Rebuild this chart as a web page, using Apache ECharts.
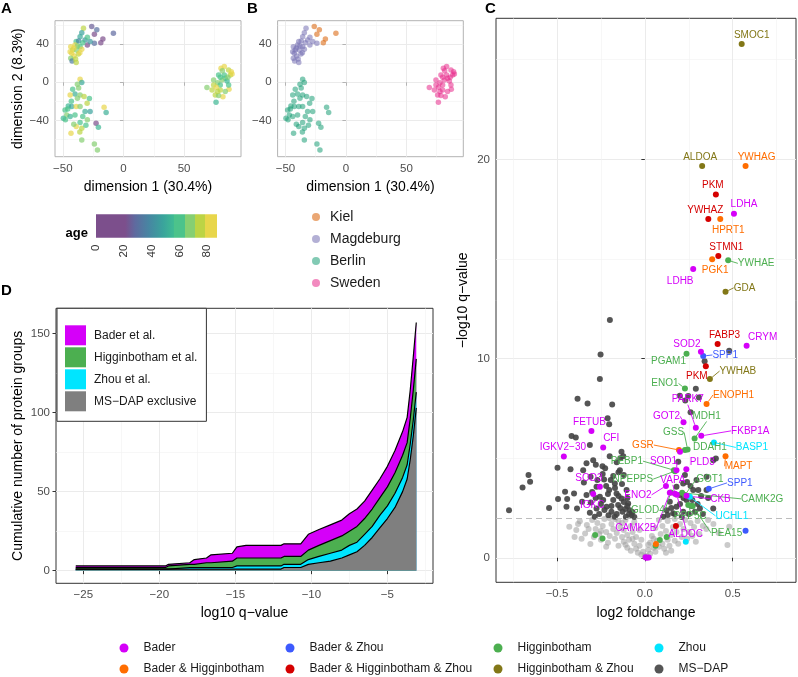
<!DOCTYPE html>
<html><head><meta charset="utf-8">
<script src="https://cdn.jsdelivr.net/npm/echarts@6/dist/echarts.min.js"></script>
<style>html,body{margin:0;padding:0;background:#fff}#c{width:798px;height:677px}</style>
</head><body><div id="c"></div>
<script>
// ---------------- Panel A / B : PCA ----------------
const pcaX = [-26.2,-33,-24,-8.3,-17,-18.7,-24,-29.8,-27.5,-34.4,-35.8,-39,-37,-35.8,-40,-43.5,-41.9,-38.6,-34.4,-42.7,-40.8,-37.2,-43.5,-42.4,-39,-31.7,-33.6,-29.8,-22,-38,-41,-36,-44,-39.5,
 -35.8,-34.4,-38,-41.9,-40,-44,-35.8,-32.5,-28.1,-38,-45.5,-42.7,-48.2,-46.8,-44,-40,-39,-35.8,-31.7,-27.5,-33.6,-29.8,-35.8,-39,-34.4,-43.3,-22.6,-20.7,-34.4,-24,-21.5,-16,-14.3,-49.6,-47.9,-37,-43,-30,-41,-46,-36,-31,
 68.9,74.4,78.5,80.5,83.2,86.8,89,88.2,84,81.3,77.7,74.4,79.9,85.5,87.1,84,79.9,75.8,82.1,76.4,73.1,78.5,83.2,79.9,86.2,89.6,81.6,76.6,77.7,86.8];
const pcaY = [58.3,56.5,50.3,51.3,45.4,41.5,40.8,39.1,42.6,52,47.8,42.6,43.3,37.3,39.1,37.3,33.9,33.9,34.6,30.4,27.6,29.7,25.1,22.3,20.6,44.3,41.5,47.1,55,38,36,31,32,24.5,
 3.1,-0.3,-2.1,-7.3,-12.2,-13.3,-13.3,-15,-17.1,-16.8,-24.8,-25.5,-29,-34.2,-36,-34.2,-25.5,-25.5,-30.7,-30.7,-36,-39.4,-42.2,-46.4,-48.2,-53.4,-42.9,-47.1,-60.4,-64.6,-70.9,-26.2,-31.8,-37.7,-39.4,-6,-20,-22,-44,-28,-52,-45,
 -5.6,2.4,7.6,14.6,16.4,12.9,11.1,7.6,4.2,2.4,-0.4,-2.8,-2.8,1.4,-7.3,-9.8,-8.1,-13.3,-15.1,-20.9,-8.1,-14,7.6,5.2,5.2,8.7,12.1,-5.2,-9.8,-2.8];
const pcaAge = [25,72,10,28,12,15,30,18,45,48,50,60,38,62,82,85,76,66,84,83,80,78,64,35,74,44,58,60,30,70,79,81,86,77,
 82,50,64,63,52,80,65,72,62,66,55,50,60,66,54,63,80,65,52,48,62,64,60,82,72,84,12,55,66,70,70,82,52,55,62,68,61,74,70,58,78,60,
 67,70,62,80,84,78,83,72,60,66,64,76,62,55,80,65,71,78,82,55,74,68,63,58,64,80,70,80,73,58];
const pcaSite = ['Kiel','Magdeburg','Kiel','Kiel','Kiel','Kiel','Magdeburg','Magdeburg','Magdeburg','Magdeburg','Magdeburg','Magdeburg','Magdeburg','Magdeburg','Magdeburg','Magdeburg','Magdeburg','Magdeburg','Magdeburg','Magdeburg','Magdeburg','Magdeburg','Magdeburg','Magdeburg','Magdeburg','Magdeburg','Magdeburg','Magdeburg','Kiel','Magdeburg','Magdeburg','Magdeburg','Magdeburg','Magdeburg',
 'Berlin','Berlin','Berlin','Berlin','Berlin','Berlin','Berlin','Berlin','Berlin','Berlin','Berlin','Berlin','Berlin','Berlin','Berlin','Berlin','Berlin','Berlin','Berlin','Berlin','Berlin','Berlin','Berlin','Berlin','Berlin','Berlin','Berlin','Berlin','Berlin','Berlin','Berlin','Berlin','Berlin','Berlin','Berlin','Berlin','Berlin','Berlin','Berlin','Berlin','Berlin','Berlin',
 'Sweden','Sweden','Sweden','Sweden','Sweden','Sweden','Sweden','Sweden','Sweden','Sweden','Sweden','Sweden','Sweden','Sweden','Sweden','Sweden','Sweden','Sweden','Sweden','Sweden','Sweden','Sweden','Sweden','Sweden','Sweden','Sweden','Sweden','Sweden','Sweden','Sweden'];
const sites = ['Kiel','Magdeburg','Berlin','Sweden'];
const pcaXTicks = [-50,0,50], pcaXMinor = [-25,25,75];
const pcaYTicks = [-40,0,40], pcaYMinor = [-60,-20,20,60];
const ageTicks = [0,20,40,60,80];
const ageRange = [0,87];

// ---------------- Panel D : cumulative counts ----------------
const dQ      = [-25.5,-19.6,-19.4,-18.0,-17.7,-16.9,-16.6,-15.2,-14.9,-14.3,-12.0,-11.8,-10.7,-10.2,-9.5,-8.75,-8.0,-7.5,-7.0,-6.5,-6.0,-5.5,-5.0,-4.5,-4.0,-3.7,-3.5,-3.3,-3.1];
const dMsdap  = [1,1,1,1,1,1,1,1,1,1,1,2,2,4,5,6,8,10,12,16,21,27,33,40,50,58,70,85,103];
const dZhou   = [0,0,0,1,1,1,1,1,2,2,2,2,2,3,4,5,5,6,6,7,7,8,8,9,9,9,10,10,10];
const dHigg   = [1,1,2,2,2,3,3,4,5,5,5,5,5,6,7,8,9,9,10,10,11,11,12,13,14,14,16,19,21];
const dBader  = [1,1,1,1,3,3,5,5,7,8,8,8,8,10,10,10,10,11,11,11,12,12,13,14,15,16,18,21,23];
const dNames  = ['MS−DAP exclusive','Zhou et al.','Higginbotham et al.','Bader et al.'];
const dXTicks = [-25,-20,-15,-10,-5], dXMinor = [-22.5,-17.5,-12.5,-7.5,-2.5];
const dYTicks = [0,50,100,150], dYMinor = [25,75,125];

// ---------------- Panel C : volcano ----------------
const vBader = [[0.507,17.27,'LDHA'],[0.275,14.49,'LDHB'],[0.579,10.64,'CRYM'],[0.319,10.34,'SOD2'],[0.290,6.53,'PARK7'],[0.220,6.80,'GOT2'],[0.321,6.12,'FKBP1A'],[0.236,4.44,'PLD3'],[0.180,4.40,'SOD1'],[0.171,3.21,'VAPA'],[0.120,3.61,'ENO2'],[0.237,3.11,'CKB'],[0.142,3.26,'CAMK2B'],[0.182,3.16,'ALDOC'],[-0.304,6.36,'FETUB'],[-0.237,5.54,'CFI'],[-0.461,5.09,'IGKV2−30'],[-0.256,3.56,'SOD3'],[-0.294,3.20,'IGKC'],[0.200,5.32],[0.010,0.0],[0.022,0.02],[0.004,0.03]];
const vBaderZhou = [[0.332,10.13,'SPP1'],[0.364,3.46,'SPP1#2'],[0.573,1.36]];
const vHigg = [[0.474,14.93,'YWHAE'],[0.237,10.24,'PGAM1'],[0.228,8.50,'ENO1'],[0.283,5.99,'MDH1'],[0.243,5.44,'GSS'],[0.228,5.41,'DDAH1'],[0.165,4.40,'PEBP1'],[0.171,4.35,'NPEPPS'],[0.228,3.15,'GOT1'],[0.212,3.26,'CAMK2G'],[0.148,3.28,'GLOD4'],[0.247,2.65,'PPP5C'],[0.272,2.60,'PEA15'],[-0.283,1.14],[-0.241,0.97],[0.085,0.89],[0.124,1.05],[0.061,0.60]];
const vZhou = [[0.393,5.79,'BASP1'],[0.256,3.06,'UCHL1'],[0.233,0.80]];
const vBaderHigg = [[0.573,19.66,'YWHAG'],[0.429,17.0,'HPRT1'],[0.383,14.98,'PGK1'],[0.351,7.72,'ENOPH1'],[0.194,5.41,'GSR'],[0.459,5.10,'MAPT'],[0.063,0.69]];
const vBHZ = [[0.404,18.24,'PKM'],[0.361,17.0,'YWHAZ'],[0.418,15.15,'STMN1'],[0.414,10.73,'FABP3'],[0.347,9.61,'PKM#2'],[0.177,1.59]];
const vHiggZhou = [[0.551,25.79,'SMOC1'],[0.326,19.66,'ALDOA'],[0.459,13.35,'GDA'],[0.37,8.97,'YWHAB']];
const vMsdap = [[-0.199,11.93],[-0.252,10.21],[-0.256,8.97],[-0.383,7.98],[0.48,10.39],[0.29,8.48],[0.199,8.13],[-0.326,7.75],[-0.186,7.7],[-0.212,7.0],[-0.203,6.7],[-0.417,6.11],[-0.393,6.04],[-0.313,5.66],[-0.133,5.32],[-0.123,5.1],[-0.294,4.9],[-0.332,4.74],[-0.497,4.52],[-0.423,4.44],[-0.279,4.67],[-0.241,4.6],[-0.226,4.49],[-0.662,4.15],[-0.653,3.82],[-0.696,3.53],[-0.773,2.39],[-0.545,2.5],[-0.494,2.95],[-0.442,2.95],[-0.454,3.31],[-0.403,3.23],[-0.347,3.78],[-0.309,4.07],[-0.351,4.4],[-0.308,2.78],[-0.313,2.26],[-0.275,2.48],[-0.194,3.9],[-0.203,3.4],[-0.171,3.73],[-0.232,3.93],[-0.142,4.4],[-0.12,4.15],[-0.104,3.4],[-0.127,2.31],[-0.152,2.65],[-0.18,2.9],[-0.161,3.23],[-0.133,2.98],[-0.095,2.73],[-0.085,2.39],[-0.076,2.14],[-0.19,2.31],[-0.218,2.56],[-0.237,2.9],[-0.256,3.06],[-0.207,2.14],[-0.171,2.06],[-0.108,2.06],[-0.332,3.15],[-0.357,2.81],[-0.386,2.48],[-0.446,2.56],[-0.275,3.56],[-0.285,2.06],[0.247,8.12],[0.308,8.05],[0.34,9.87],[0.19,4.82],[0.275,3.4],[0.304,3.4],[0.351,3.4],[0.18,3.56],[0.218,3.73],[0.199,3.15],[0.237,2.9],[0.266,2.6],[0.285,2.31],[0.313,2.48],[0.218,2.31],[0.18,2.56],[0.161,2.23],[0.142,2.81],[0.124,2.39],[0.389,4.9],[0.404,4.99],[0.389,2.48],[0.351,4.07],[0.228,4.15],[0.294,3.9],[0.104,2.06],
 [-0.15,3.1],[-0.14,2.5],[-0.16,2.2],[-0.12,2.8],[-0.1,3.0],[-0.11,2.45],[-0.09,2.2],[-0.17,3.5],[-0.13,3.7],[-0.19,2.6],[-0.21,3.2],[-0.23,2.4],[-0.25,2.7],[-0.26,2.2],[-0.3,3.3],[-0.28,3.0],[-0.22,3.6],[-0.18,4.1],[-0.15,4.3],[-0.24,4.2],[-0.27,3.9],[-0.1,2.6],[-0.07,2.3],[-0.06,2.05],[-0.14,5.0],[-0.16,4.8],[-0.2,5.1],[0.17,2.2],[0.2,2.7],[0.22,3.0],[0.25,2.2],[0.27,2.9],[0.3,2.7],[0.32,3.1],[0.26,3.6],[0.24,3.8],[0.15,2.5],[0.13,2.15],[0.33,2.2],[0.21,2.05],[0.36,3.0],[0.23,7.9],[0.26,7.3]];
const vNotSig = [[-0.43,1.56],[-0.39,1.39],[-0.37,1.84],[-0.34,1.22],[-0.31,0.69],[-0.40,1.05],[-0.36,0.95],[-0.33,1.65],[-0.30,1.9],[-0.28,1.45],[-0.27,1.75],[-0.26,1.2],[-0.25,0.9],[-0.24,1.6],[-0.23,1.95],[-0.22,1.3],[-0.21,0.75],[-0.20,1.1],[-0.19,1.7],[-0.18,1.45],[-0.17,0.95],[-0.16,1.25],[-0.15,1.85],[-0.15,0.6],[-0.14,1.55],[-0.13,1.05],[-0.12,0.8],[-0.12,1.4],[-0.11,1.9],[-0.10,0.5],[-0.10,1.15],[-0.09,0.9],[-0.08,1.6],[-0.08,0.35],[-0.07,1.3],[-0.06,0.7],[-0.06,1.8],[-0.05,0.45],[-0.05,1.05],[-0.04,0.25],[-0.03,0.6],[-0.03,1.4],[-0.02,0.15],[-0.02,0.9],[-0.01,0.3],[0.0,0.05],[-0.2,1.98],[-0.29,1.05],[-0.32,1.45],[-0.38,1.7],[-0.22,0.55],[-0.13,1.75],[-0.17,1.95],[-0.25,1.35],[-0.11,0.65],[-0.07,0.95],
 [0.01,0.1],[0.02,0.4],[0.03,0.2],[0.03,0.75],[0.04,1.1],[0.05,0.5],[0.06,0.3],[0.06,1.5],[0.07,0.85],[0.08,0.55],[0.08,1.9],[0.09,1.2],[0.10,0.7],[0.10,1.6],[0.11,0.45],[0.12,1.35],[0.13,0.9],[0.13,1.85],[0.14,0.6],[0.15,1.15],[0.16,1.55],[0.17,0.85],[0.17,1.95],[0.18,1.3],[0.19,0.7],[0.20,1.7],[0.21,1.05],[0.22,1.45],[0.23,1.9],[0.24,0.95],[0.25,1.3],[0.26,1.75],[0.27,1.1],[0.28,1.55],[0.30,1.85],[0.31,1.2],[0.33,1.6],[0.35,1.45],[0.36,1.9],[0.39,1.7],[0.48,1.56],[0.47,0.64],[0.42,1.25],[0.29,0.8],[0.05,0.95],[0.02,0.65],[0.15,0.35],[0.12,0.25]];
const qThreshold = [2];
const cXTicks = [-0.5,0,0.5], cXMinor = [-0.75,-0.25,0.25,0.75];
const cYTicks = [0,10,20], cYMinor = [5,15,25];

// label placement (pixel offsets from the point, and whether a leader line is drawn)
const labelNudge = {
 'SMOC1':[10,-9,0],'ALDOA':[-2,-9,0],'YWHAG':[11,-9,0],'PKM':[-3,-9,0],'LDHA':[10,-9,0],'YWHAZ':[-3,-9,0],'HPRT1':[8,11,0],
 'STMN1':[8,-9,0],'PGK1':[3,11,0],'YWHAE':[28,3,1],'LDHB':[-13,12,0],'GDA':[19,-4,1],'FABP3':[7,-9,0],'CRYM':[16,-9,0],
 'SOD2':[-14,-8,0],'SPP1':[22,-1,1],'PGAM1':[-18,7,0],'PKM#2':[-9,10,0],'YWHAB':[28,-8,1],'ENO1':[-20,-5,1],'ENOPH1':[27,-9,1],
 'PARK7':[-8,-28,1],'MDH1':[12,-22,1],'GOT2':[-17,-6,1],'FKBP1A':[49,-5,1],'GSS':[-14,-17,1],'DDAH1':[25,-3,0],'BASP1':[38,5,1],
 'GSR':[-36,-5,1],'MAPT':[13,10,1],'PLD3':[16,-7,0],'PEBP1':[-47,-9,1],'SOD1':[-13,-9,1],'NPEPPS':[-42,8,1],'VAPA':[-2,-14,1],
 'ENO2':[-28,9,1],'GOT1':[25,-16,1],'SPP1#2':[31,-6,1],'CKB':[34,3,1],'CAMK2G':[80,6,1],'UCHL1':[42,19,1],'GLOD4':[-23,18,1],
 'PPP5C':[2,11,1],'PEA15':[34,27,1],'CAMK2B':[-34,35,1],'ALDOC':[9,39,1],'FETUB':[-2,-9,0],'CFI':[8,-9,0],'IGKV2−30':[-1,-9,0],
 'SOD3':[-11,-9,0],'IGKC':[-1,11,0]
};

// ---------------- styles ----------------
const FONT = '"Liberation Sans", Arial, Helvetica, sans-serif';
const siteColor = {Kiel:'#D95F02', Magdeburg:'#7570B3', Berlin:'#1B9E77', Sweden:'#E7298A'};
const catColor = {'Bader':'#D500F9','Bader & Higginbotham':'#FF6D00','Bader & Zhou':'#3D5AFE','Bader & Higginbotham & Zhou':'#D50000',
  'Higginbotham':'#4CAF50','Higginbotham & Zhou':'#827717','Zhou':'#00E5FF','MS−DAP':'#424242'};
const dColor = ['#7f7f7f','#00E5FF','#4CAF50','#D500F9'];
const AGE_STOPS = [[0,'#7c4f8c'],[21,'#7c4f8c'],[28,'#5f6a9f'],[38,'#4786a2'],[48,'#3aa39c'],[55.9,'#3fbb93'],[55.9,'#4cc38b'],[63.8,'#4cc38b'],[63.8,'#86cf72'],[70.9,'#86cf72'],[70.9,'#bcd445'],[78.6,'#bcd445'],[78.6,'#e8d64b'],[87,'#e8d64b']];

function hex2rgb(h){return [parseInt(h.substr(1,2),16),parseInt(h.substr(3,2),16),parseInt(h.substr(5,2),16)];}
function mix(a,b,t){const x=hex2rgb(a),y=hex2rgb(b);return 'rgb('+x.map((v,i)=>Math.round(v+(y[i]-v)*t)).join(',')+')';}
function ageColor(a){
  for(let i=0;i<AGE_STOPS.length-1;i++){
    const a0=AGE_STOPS[i][0],a1=AGE_STOPS[i+1][0];
    if(a>=a0&&a<=a1){ if(a1===a0) return AGE_STOPS[i+1][1]; return mix(AGE_STOPS[i][1],AGE_STOPS[i+1][1],(a-a0)/(a1-a0)); }
  }
  return AGE_STOPS[AGE_STOPS.length-1][1];
}
const minusFmt = v => String(v).replace('-', '\u2212');

function mainAxis(dim, gi, min, max, ticks, fmt, tickColor, name, gap){
  return {type:'value', gridIndex:gi, min:min, max:max, position: dim==='x'?'bottom':'left',
    axisLine:{show:false},
    axisTick:{show:true, customValues:ticks, length:3.5, lineStyle:{color:tickColor,width:1}},
    axisLabel:{customValues:ticks, formatter:fmt, margin:6, fontSize:11.5, color:'#4d4d4d', fontFamily:FONT},
    splitLine:{show:true, lineStyle:{color:'#ebebeb', width:1}},
    name:name||'', nameLocation:'middle', nameGap:gap||0,
    nameTextStyle:{fontSize:14, color:'#000', fontFamily:FONT}};
}
function minorAxis(dim, gi, min, max, ticks){
  return {type:'value', gridIndex:gi, min:min, max:max, position: dim==='x'?'top':'right',
    axisLine:{show:false}, axisTick:{show:false, customValues:ticks}, axisLabel:{show:false, customValues:ticks},
    splitLine:{show:true, lineStyle:{color:'#f2f2f2', width:0.6}}};
}

const grids = [
  {left:55, top:20.7, width:186, height:136, show:true, borderColor:'#b3b3b3', borderWidth:1, backgroundColor:'#fff'},     // A
  {left:277.6, top:20.7, width:185.7, height:136, show:true, borderColor:'#b3b3b3', borderWidth:1, backgroundColor:'#fff'},// B
  {left:96, top:214.3, width:121, height:23.4},                                                                           // colorbar
  {left:56, top:308.3, width:377, height:275, show:true, borderColor:'#333', borderWidth:1, backgroundColor:'#fff'},       // D
  {left:496, top:18.3, width:300, height:564, show:true, borderColor:'#333', borderWidth:1, backgroundColor:'#fff'}        // C
].map(g=>Object.assign({containLabel:false, outerBoundsMode:'none', z:0}, g));

const pcaXR=[-56.5,97], pcaYR=[-78,64.5], dXR=[-26.8,-2.0], dYR=[-8,166], cXR=[-0.847,0.86], cYR=[-1.23,27.08];

const xAxes = [
  mainAxis('x',0,pcaXR[0],pcaXR[1],pcaXTicks,minusFmt,'#b3b3b3','dimension 1 (30.4%)',23),
  minorAxis('x',0,pcaXR[0],pcaXR[1],pcaXMinor),
  mainAxis('x',1,pcaXR[0],pcaXR[1],pcaXTicks,minusFmt,'#b3b3b3','dimension 1 (30.4%)',23),
  minorAxis('x',1,pcaXR[0],pcaXR[1],pcaXMinor),
  {type:'value', gridIndex:2, min:ageRange[0], max:ageRange[1], position:'bottom', axisLine:{show:false},
    axisTick:{show:true, inside:true, length:4.5, customValues:ageTicks, lineStyle:{color:'#fff',width:1}},
    axisLabel:{customValues:ageTicks, rotate:90, margin:7, fontSize:11.5, color:'#333', fontFamily:FONT},
    splitLine:{show:false}},
  mainAxis('x',3,dXR[0],dXR[1],dXTicks,minusFmt,'#333','log10 q\u2212value',22.7),
  minorAxis('x',3,dXR[0],dXR[1],dXMinor),
  mainAxis('x',4,cXR[0],cXR[1],cXTicks,v=>v.toFixed(1).replace('-','\u2212'),'#333','log2 foldchange',23.7),
  minorAxis('x',4,cXR[0],cXR[1],cXMinor),
  {type:'value', gridIndex:2, min:ageRange[0], max:ageRange[1], position:'top', axisLine:{show:false},
    axisTick:{show:true, inside:true, length:4.5, customValues:ageTicks, lineStyle:{color:'#fff',width:1}},
    axisLabel:{show:false, customValues:ageTicks}, splitLine:{show:false}}
];
const yAxes = [
  mainAxis('y',0,pcaYR[0],pcaYR[1],pcaYTicks,minusFmt,'#b3b3b3','dimension 2 (8.3%)',29.5),
  minorAxis('y',0,pcaYR[0],pcaYR[1],pcaYMinor),
  mainAxis('y',1,pcaYR[0],pcaYR[1],pcaYTicks,minusFmt,'#b3b3b3','',0),
  minorAxis('y',1,pcaYR[0],pcaYR[1],pcaYMinor),
  {type:'value', gridIndex:2, min:0, max:1, show:false},
  mainAxis('y',3,dYR[0],dYR[1],dYTicks,minusFmt,'#333','Cumulative number of protein groups',31),
  minorAxis('y',3,dYR[0],dYR[1],dYMinor),
  mainAxis('y',4,cYR[0],cYR[1],cYTicks,minusFmt,'#333','\u2212log10 q\u2212value',26),
  minorAxis('y',4,cYR[0],cYR[1],cYMinor)
];

const series = [];
// A
series.push({type:'scatter', name:'age', xAxisIndex:0, yAxisIndex:0, symbolSize:5.5, z:3,
  data: pcaX.map((x,i)=>[x,pcaY[i],pcaAge[i]]),
  itemStyle:{color:p=>ageColor(p.value[2]), opacity:0.7}});
// B
sites.forEach(s=>{
  series.push({type:'scatter', name:s, xAxisIndex:2, yAxisIndex:2, symbolSize:5.5, z:3,
    data: pcaX.map((x,i)=>[x,pcaY[i],pcaSite[i]]).filter(d=>d[2]===s).map(d=>[d[0],d[1]]),
    itemStyle:{color:siteColor[s], opacity:0.55}});
});
// colorbar
const cbStops = AGE_STOPS.map(s=>({offset:(s[0]-ageRange[0])/(ageRange[1]-ageRange[0]), color:s[1]}));
series.push({type:'custom', name:'agebar', xAxisIndex:4, yAxisIndex:4, z:1,
  data:[[ageRange[0],0,ageRange[1],1]], encode:{x:[0,2], y:[1,3]},
  renderItem:(p,api)=>{const a=api.coord([api.value(0),api.value(1)]), b=api.coord([api.value(2),api.value(3)]);
    return {type:'rect', shape:{x:a[0], y:b[1], width:b[0]-a[0], height:a[1]-b[1]},
      style:{fill:new echarts.graphic.LinearGradient(0,0,1,0,cbStops)}};}});
// D : cumulative stack tops, drawn from the top layer down so each opaque area covers the one beneath
const dLayers = [dMsdap,dZhou,dHigg,dBader];
const dTops = []; let run = dQ.map(()=>0);
dLayers.forEach(arr=>{ run = run.map((v,i)=>v+arr[i]); dTops.push(run.slice()); });
[3,2,1,0].forEach(k=>{
  series.push({type:'line', name:dNames[k], xAxisIndex:5, yAxisIndex:5, showSymbol:false, symbol:'none', z:3,
    data: dQ.map((q,i)=>[q,dTops[k][i]]), color:dColor[k],
    lineStyle:{color:'#000', width:1.2}, areaStyle:{color:dColor[k], opacity:1, origin:'auto'}});
});
// C threshold line
series.push({type:'line', name:'threshold', xAxisIndex:7, yAxisIndex:7, data:[], z:2,
  markLine:{silent:true, symbol:'none', label:{show:false}, lineStyle:{color:'#bdbdbd', type:[6,4], width:1.2},
    data: qThreshold.map(v=>({yAxis:v}))}});
// C not significant
series.push({type:'scatter', name:'not significant', xAxisIndex:7, yAxisIndex:7, symbolSize:6, z:3,
  data:vNotSig, itemStyle:{color:'#9e9e9e', opacity:0.55}});
// C MS-DAP
series.push({type:'scatter', name:'MS−DAP', xAxisIndex:7, yAxisIndex:7, symbolSize:6, z:4,
  data:vMsdap, itemStyle:{color:catColor['MS−DAP'], opacity:0.9}});
function cSeries(cat, pts){
  const col = catColor[cat];
  return {type:'scatter', name:cat, xAxisIndex:7, yAxisIndex:7, symbolSize:6, z:5,
    itemStyle:{color:col, opacity:1},
    data: pts.map(p=>({value:[p[0],p[1]], name:p[2]||'',
      label:{show:!!p[2]},
      labelLine:{show: !!(p[2] && labelNudge[p[2]] && labelNudge[p[2]][2])}})),
    label:{show:false, formatter:q=>q.name.replace(/#.*/,''), fontSize:10, color:col, fontFamily:FONT},
    labelLine:{show:false, lineStyle:{color:col, width:0.9}},
    labelLayout: function(q){
      const it = pts[q.dataIndex]; if(!it || !it[2]) return {};
      const n = labelNudge[it[2]] || [0,-9,0];
      return {x:q.rect.x+q.rect.width/2+n[0], y:q.rect.y+q.rect.height/2+n[1], align:'center', verticalAlign:'middle'};
    }};
}
series.push(cSeries('Zhou', vZhou));
series.push(cSeries('Higginbotham', vHigg));
series.push(cSeries('Bader & Zhou', vBaderZhou));
series.push(cSeries('Bader & Higginbotham', vBaderHigg));
series.push(cSeries('Higginbotham & Zhou', vHiggZhou));
series.push(cSeries('Bader & Higginbotham & Zhou', vBHZ));
series.push(cSeries('Bader', vBader));

function botLegend(names, dotX){
  return {orient:'vertical', left:dotX-4.5, top:642, width:260, height:60, padding:0, itemWidth:9, itemHeight:9, itemGap:9,
    icon:'circle', selectedMode:false,
    data:names, textStyle:{fontSize:12, color:'#1a1a1a', fontFamily:FONT, padding:[0,0,0,10]}};
}
const legends = [
  {orient:'vertical', left:312, top:210, padding:0, width:150, height:120, itemWidth:8, itemHeight:8, itemGap:8, icon:'circle', selectedMode:false,
   data:sites, textStyle:{fontSize:14, color:'#1a1a1a', fontFamily:FONT, padding:[0,0,0,5]}},
  {orient:'vertical', left:57, top:308.3, itemWidth:21, itemHeight:20, itemGap:2, icon:'rect', selectedMode:false,
   padding:[17,9,10,8], borderColor:'#333', borderWidth:1, backgroundColor:'#fff', z:10,
   itemStyle:{borderWidth:0},
   data:[3,2,1,0].map(k=>({name:dNames[k], itemStyle:{color:dColor[k], borderWidth:0}})),
   textStyle:{fontSize:12, color:'#1a1a1a', fontFamily:FONT, padding:[0,0,0,3]}},
  botLegend(['Bader','Bader & Higginbotham'],124),
  botLegend(['Bader & Zhou','Bader & Higginbotham & Zhou'],290),
  botLegend(['Higginbotham','Higginbotham & Zhou'],498),
  botLegend(['Zhou','MS−DAP'],659)
];

const panelLetter = (t,x,y)=>({type:'text', x:x, y:y, style:{text:t, font:'bold 15px '+FONT, fill:'#000', textVerticalAlign:'top'}});
const option = {
  animation:false, backgroundColor:'#fff',
  textStyle:{fontFamily:FONT},
  grid:grids, xAxis:xAxes, yAxis:yAxes, series:series, legend:legends,
  graphic:[
    panelLetter('A',1,1), panelLetter('B',247,1), panelLetter('C',485,1), panelLetter('D',1,283),
    {type:'text', x:88, y:233, style:{text:'age', font:'bold 13px '+FONT, fill:'#000', align:'right', verticalAlign:'middle'}}
  ]
};
const chart = echarts.init(document.getElementById('c'), null, {renderer:'canvas'});
chart.setOption(option);
</script></body></html>
